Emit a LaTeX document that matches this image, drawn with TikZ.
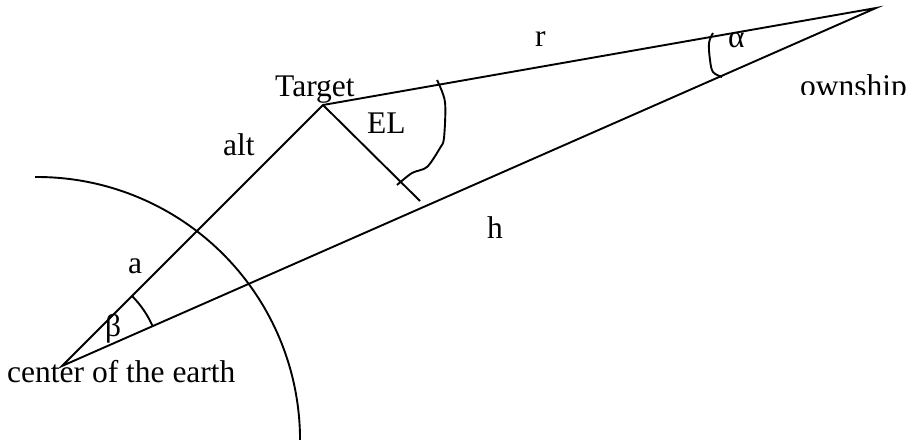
\documentclass[tikz,border=0pt]{standalone}
\usepackage{fontspec}
\setmainfont{Liberation Serif}
\begin{document}
\begin{tikzpicture}[x=1pt,y=1pt,
  geo/.style={line width=1.9pt, black},
  lbl/.style={inner sep=0pt, anchor=base west, font=\fontsize{31.5}{37}\selectfont}]
\useasboundingbox (0,0) rectangle (909,440);
% key points
\coordinate (C) at (62,74);
\coordinate (T) at (323,335);
\coordinate (O) at (876,432);
\coordinate (E) at (420,239);
% triangle and EL line
\draw[geo] (C) -- (T) -- (O) -- cycle;
\draw[geo] (T) -- (E);
% earth surface
\draw[geo] (35.2,263) arc[start angle=90.4, end angle=0, radius=263];
% beta angle
\draw[geo] (132,144) arc[start angle=45, end angle=23.7, radius=99];
% EL angle mark
\draw[geo] plot[smooth, tension=0.5] coordinates {(437,360) (445,338) (444,302) (440,292) (427,273) (412,267) (397,255)};
% alpha angle mark
\draw[geo] plot[smooth, tension=0.6] coordinates {(713,407) (709,397) (710,380) (713,368) (722,363)};
% labels
\node[lbl] (lr) at (535,393) {r};
\node[lbl] (ltarget) at (275,344) {Target};
\node[lbl] (lel) at (367,307) {EL};
\node[lbl] (lalt) at (223,285) {alt};
\node[lbl] (lh) at (487,202) {h};
\node[lbl] (lalpha) at (728,392) {α};
\node[lbl] (lcenter) at (7,58) {center of the earth};
\node[lbl] (la) at (128,167) {a};
\node[lbl] (lbeta) at (105,104) {β};
\begin{scope}
  \clip (790,345) rectangle (905,400);
  \node[lbl] (lown) at (800,343) {ownship};
\end{scope}
\end{tikzpicture}
\end{document}
